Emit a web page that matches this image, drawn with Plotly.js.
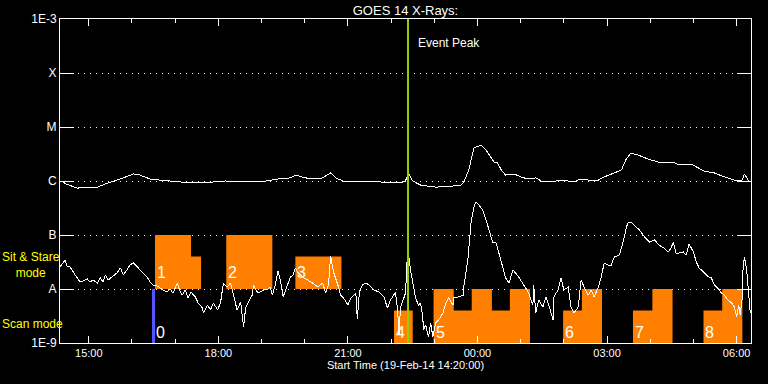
<!DOCTYPE html>
<html>
<head>
<meta charset="utf-8">
<script src="https://cdn.plot.ly/plotly-3.0.1.min.js"></script>
<style>
html,body{margin:0;padding:0;background:#000;}
#chart{width:768px;height:384px;}
#chart path.js-line, #chart .gridlayer path, #chart .xtick, #chart .ytick{shape-rendering:crispEdges;}
</style>
</head>
<body>
<div id="chart"></div>
<script>
// ---- Data (times in minutes after Start Time 19-Feb-14 14:20:00) ----
const startTimeLabel = '2014-02-19 14:20:00';
const endTimeLabel = '2014-02-20 06:20:00';

// GOES long channel (upper curve), W/m^2
const longMin = [0,3,8,24,52,63,84,102,111,125,139,167,195,216,230,251,278,303,320,327,341,362,376,383,397,418,445,473,480,484,490,501,522,543,557,561,568,575,585,592,599,603,608,613,619,631,640,650,661,671,682,696,706,713,724,734,748,756,770,780,786,793,803,817,831,845,852,859,873,877,887,895,909,923,937,947,951,956,959];
const longFlux = [9.6e-7,1.0e-6,8.8e-7,7.4e-7,7.7e-7,8.8e-7,1.09e-6,1.35e-6,1.29e-6,1.09e-6,1.04e-6,9.6e-7,9.2e-7,9.6e-7,1.0e-6,9.6e-7,9.6e-7,1.09e-6,1.14e-6,1.29e-6,1.14e-6,1.09e-6,1.41e-6,1.14e-6,9.6e-7,9.6e-7,9.6e-7,9.2e-7,1.0e-6,1.41e-6,1.0e-6,8.4e-7,7.7e-7,8.0e-7,8.4e-7,9.6e-7,1.6e-6,4.1e-6,4.6e-6,3.7e-6,2.67e-6,2.25e-6,2.15e-6,1.6e-6,1.29e-6,1.35e-6,1.19e-6,1.09e-6,1.14e-6,9.6e-7,9.6e-7,1.04e-6,1.0e-6,9.6e-7,1.09e-6,1.04e-6,1.04e-6,1.19e-6,1.41e-6,1.6e-6,2.45e-6,3.3e-6,3.03e-6,2.55e-6,2.25e-6,2.15e-6,2.25e-6,1.98e-6,1.98e-6,2.06e-6,1.74e-6,1.53e-6,1.41e-6,1.19e-6,1.04e-6,1.0e-6,1.35e-6,1.04e-6,9.6e-7];

// GOES short channel (lower curve), W/m^2
const shortMin = [0,4,7,10,14,21,28,32,38,42,46,52,56,60,63,67,72,75,79,84,88,93,97,102,107,111,116,121,125,129,135,139,143,149,153,157,163,166,170,174,178,182,188,192,198,199,205,209,213,219,223,227,232,237,241,246,251,255,258,262,267,269,274,278,283,288,292,295,299,303,306,310,316,320,324,327,331,337,344,351,358,365,369,373,376,380,386,390,394,400,404,411,413,416,420,425,429,436,443,450,455,459,462,466,469,471,473,477,480,483,484,487,490,494,498,501,504,505,508,512,515,518,522,526,532,536,540,546,547,553,560,561,567,571,575,578,582,587,592,596,601,606,610,615,619,624,629,633,638,643,647,651,657,658,661,665,671,675,679,685,686,692,696,700,706,710,714,720,724,728,734,738,742,748,752,756,761,766,770,777,782,787,789,793,798,805,812,819,826,832,839,845,849,852,856,860,866,870,874,880,884,888,894,901,905,909,916,919,923,928,933,937,940,943,945,948,949,951,954,956,958,959];
const shortFlux = [2.56e-8,3.0e-8,3.45e-8,2.56e-8,2.56e-8,1.82e-8,1.35e-8,1.41e-8,1.53e-8,1.35e-8,1.47e-8,1.29e-8,1.6e-8,1.35e-8,1.82e-8,1.47e-8,1.67e-8,1.82e-8,1.98e-8,2.45e-8,1.82e-8,2.25e-8,2.78e-8,3.03e-8,2.56e-8,2.25e-8,1.98e-8,1.67e-8,1.35e-8,1.19e-8,1.14e-8,1.04e-8,9.6e-9,8.8e-9,1.0e-8,8.4e-9,1.29e-8,9.6e-9,7.7e-9,9.6e-9,6.8e-9,8.8e-9,7.1e-9,5.5e-9,4.45e-9,3.6e-9,5.05e-9,4.1e-9,5.5e-9,4.1e-9,5.5e-9,1.29e-8,1.09e-8,1.29e-8,7.7e-9,4.1e-9,5.7e-9,2.0e-9,4.6e-9,5.7e-9,7.7e-9,1.19e-8,8.8e-9,8.8e-9,9.6e-9,9.6e-9,1.09e-8,7.7e-9,1.19e-8,2.15e-8,1.47e-8,7.1e-9,1.19e-8,1.67e-8,1.82e-8,2.45e-8,1.98e-8,1.67e-8,1.47e-8,1.29e-8,1.09e-8,1.29e-8,8.4e-9,1.19e-8,4.08e-8,2.06e-8,1.19e-8,7.7e-9,6.8e-9,5.05e-9,6.8e-9,8.4e-9,2.8e-9,8.8e-9,1.19e-8,1.29e-8,1.19e-8,9.6e-9,8.8e-9,7.1e-9,4.45e-9,6.25e-9,7.1e-9,8.8e-9,4.1e-9,1.4e-9,4.45e-9,6.25e-9,8.4e-9,5.5e-8,4.64e-8,2.25e-8,1.35e-8,6.8e-9,5.05e-9,5.5e-9,3.0e-9,1.74e-9,2.15e-9,1.3e-9,2.35e-9,1.3e-9,2.35e-9,2.67e-9,3.6e-9,5.5e-9,6.8e-9,5.05e-9,7.1e-9,7.1e-9,7.7e-9,1.09e-8,3.91e-8,1.67e-7,3.3e-7,4.1e-7,3.6e-7,2.9e-7,1.9e-7,1.24e-7,7.4e-8,7.1e-8,4.26e-8,2.56e-8,1.6e-8,1.29e-8,2.25e-8,1.98e-8,1.6e-8,1.29e-8,1.04e-8,8.4e-9,5.05e-9,1.19e-8,3.6e-9,6.25e-9,4.64e-9,7.1e-9,5.05e-9,2.67e-9,7.1e-9,9.6e-9,1.6e-8,9.6e-9,1.09e-8,4.64e-9,3.6e-9,4.64e-9,1.47e-8,1.09e-8,7.7e-9,9.6e-9,7.1e-9,1.09e-8,1.67e-8,3.03e-8,2.78e-8,2.78e-8,3.91e-8,4.26e-8,7.1e-8,1.4e-7,1.67e-7,1.74e-7,1.53e-7,1.24e-7,9.2e-8,7.4e-8,8.1e-8,6.5e-8,5.75e-8,4.84e-8,5.75e-8,7.4e-8,4.64e-8,4.64e-8,4.84e-8,4.26e-8,6.8e-8,4.84e-8,3.16e-8,2.45e-8,2.06e-8,1.67e-8,1.6e-8,1.19e-8,9.6e-9,8.4e-9,7.7e-9,6.25e-9,5.5e-9,4.64e-9,3.0e-9,5.05e-9,3.3e-9,7.1e-9,2.56e-8,3.91e-8,2.25e-8,9.6e-9,5.05e-9,3.6e-9];

// Observation mode segments (orange)
const segStart = [132,182,231,327,464,519,547,572,600,625,699,725,796,823,894,920];
const segEnd   = [182,196,295,391,490,547,572,600,625,653,725,753,823,851,920,948];
const segBase  = [1e-8,1e-8,1e-8,1e-8,1e-9,1e-9,1e-9,1e-9,1e-9,1e-9,1e-9,1e-9,1e-9,1e-9,1e-9,1e-9];
const segTop   = [1e-7,4e-8,1e-7,4e-8,4e-9,1e-8,4e-9,1e-8,4e-9,1e-8,4e-9,1e-8,4e-9,1e-8,4e-9,1e-8];

// Numbered targets: label, start minute, row (0 = scan mode, 1 = sit & stare)
const targetLabels = ['0','1','2','3','4','5','6','7','8'];
const targetStart  = [130,132,231,327,464,519,699,796,894];
const targetRow    = [0,1,1,1,0,0,0,0,0];

const scanStartMin = 130;          // blue marker
const eventPeakMin = 483;          // event peak

const yTickVals = [1e-9,1e-8,1e-7,1e-6,1e-5,1e-4,1e-3];
const yTickText = ['1E-9','A','B','C','M','X','1E-3'];

// ---- helpers ----
const t0 = Date.UTC(2014,1,19,14,20,0);
function tm(m){ return new Date(t0 + m*60000).toISOString().replace('T',' ').replace('Z',''); }

const fx = [], fy = [];
for (let i=0;i<segStart.length;i++){
  fx.push(tm(segStart[i]),tm(segEnd[i]),tm(segEnd[i]),tm(segStart[i]),tm(segStart[i]),null);
  fy.push(segBase[i],segBase[i],segTop[i],segTop[i],segBase[i],null);
}

const FONT = 'Liberation Sans, Arial, sans-serif';
const traces = [
  {x:fx,y:fy,type:'scatter',mode:'lines',fill:'toself',fillcolor:'#ff8000',
   line:{width:0,color:'rgba(0,0,0,0)'},hoverinfo:'skip'},
  {x:longMin.map(tm),y:longFlux,type:'scatter',mode:'lines',line:{color:'#ffffff',width:1}},
  {x:shortMin.map(tm),y:shortFlux,type:'scatter',mode:'lines',line:{color:'#ffffff',width:1}},
  {x:[tm(scanStartMin),tm(scanStartMin)],y:[1e-9,1e-8],type:'scatter',mode:'lines',line:{color:'#5555ff',width:3}},
  {x:[tm(eventPeakMin),tm(eventPeakMin)],y:[1e-9,1e-3],type:'scatter',mode:'lines',line:{color:'#99cc00',width:2}}
];

const rowY = [0.031, 0.219];
const annotations = targetLabels.map((lab,i)=>({
  text: lab, x: tm(targetStart[i]), xref:'x', xanchor:'left', xshift:0,
  y: rowY[targetRow[i]], yref:'paper', yanchor:'middle', showarrow:false,
  font:{family:FONT,size:16,color:'#ffffff'}
}));
annotations.push(
  {text:'Event Peak',x:tm(eventPeakMin),xref:'x',xanchor:'left',xshift:8,y:(343-43)/324,yref:'paper',yanchor:'middle',showarrow:false,font:{family:FONT,size:12,color:'#ffffff'}},
  {text:'Sit & Stare<br>mode',align:'center',x:-60/691,xref:'paper',xanchor:'left',y:(343-265)/324,yref:'paper',yanchor:'middle',showarrow:false,font:{family:FONT,size:12,color:'#ffff00'}},
  {text:'Scan mode',x:-60/691,xref:'paper',xanchor:'left',y:(343-324)/324,yref:'paper',yanchor:'middle',showarrow:false,font:{family:FONT,size:12,color:'#ffff00'}}
);

const layout = {
  width:768,height:384,
  paper_bgcolor:'#000',plot_bgcolor:'#000',
  margin:{l:60,r:17,t:19,b:41},
  showlegend:false,
  font:{family:FONT,size:11,color:'#ffffff'},
  title:{text:'GOES 14 X-Rays:',font:{family:FONT,size:13,color:'#ffffff'},xref:'paper',x:0.5,xanchor:'center',yref:'container',y:1-10/384,yanchor:'middle'},
  xaxis:{type:'date',range:[startTimeLabel,endTimeLabel],
    tick0:'2014-02-19 15:00:00',dtick:3*3600000,tickformat:'%H:%M',
    ticks:'inside',ticklen:7,tickwidth:1,tickcolor:'#ffffff',
    minor:{dtick:3600000,ticks:'inside',ticklen:4,tickcolor:'#ffffff',tickwidth:1,showgrid:false},
    showline:true,linecolor:'#ffffff',linewidth:1,mirror:'ticks',
    showgrid:false,zeroline:false,
    tickfont:{family:FONT,size:11,color:'#ffffff'},
    title:{text:'Start Time (19-Feb-14 14:20:00)',font:{family:FONT,size:11,color:'#ffffff'},standoff:3}
  },
  yaxis:{type:'log',range:[-9,-3],tickvals:yTickVals,ticktext:yTickText,
    ticks:'inside',ticklen:14,tickwidth:1,tickcolor:'#ffffff',
    showline:true,linecolor:'#ffffff',linewidth:1,mirror:'ticks',
    showgrid:true,gridcolor:'#ffffff',gridwidth:1,griddash:'1px,5px',
    zeroline:false,tickfont:{family:FONT,size:12,color:'#ffffff'},ticklabelstandoff:0
  },
  annotations:annotations
};

Plotly.newPlot('chart',traces,layout,{staticPlot:true,displayModeBar:false});
</script>
</body>
</html>
